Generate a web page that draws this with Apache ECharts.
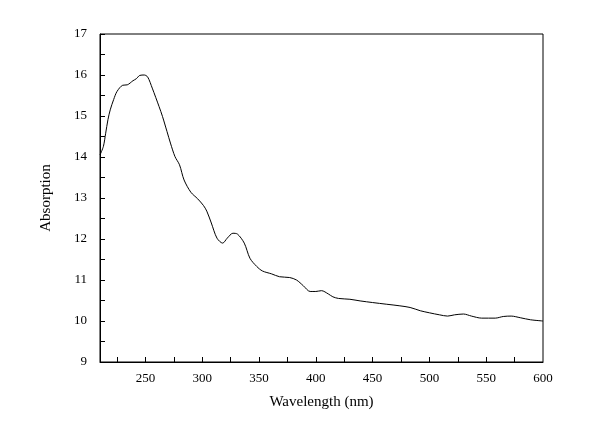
<!DOCTYPE html>
<html>
<head>
<meta charset="utf-8">
<script src="https://cdn.jsdelivr.net/npm/echarts@6/dist/echarts.min.js"></script>
<style>
  html, body { margin: 0; padding: 0; background: #fff; }
  #chart { width: 612px; height: 427px; }
</style>
</head>
<body>
<div id="chart"></div>
<script>
// wavelength (nm) and absorption
const wavelength = [210, 213, 215, 217, 219, 222, 225, 230, 234, 239, 242, 245, 249, 252, 256,
  262, 265, 269, 272, 276, 280, 284, 290, 296, 301, 304, 308, 313, 318, 322, 327, 331, 337,
  342, 348, 353, 361, 368, 377, 383, 389, 395, 400, 405, 411, 415, 420, 430, 439, 450, 462,
  474, 483, 492, 500, 509, 516, 522, 530, 537, 546, 558, 565, 572, 580, 589, 600];
const absorption = [14.05, 14.26, 14.58, 14.91, 15.15, 15.40, 15.60, 15.75, 15.76, 15.86, 15.91,
  15.99, 16.00, 15.95, 15.68, 15.23, 14.99, 14.62, 14.34, 14.01, 13.81, 13.44, 13.14, 12.98,
  12.82, 12.68, 12.39, 12.02, 11.90, 12.02, 12.14, 12.12, 11.90, 11.53, 11.33, 11.22, 11.15,
  11.08, 11.06, 11.00, 10.86, 10.72, 10.72, 10.74, 10.66, 10.59, 10.55, 10.53, 10.49, 10.45,
  10.41, 10.37, 10.33, 10.25, 10.20, 10.15, 10.12, 10.15, 10.17, 10.12, 10.07, 10.07, 10.11,
  10.12, 10.08, 10.03, 10.00];

const xLabels = [250, 300, 350, 400, 450, 500, 550, 600];
const xTicks = [225, 250, 275, 300, 325, 350, 375, 400, 425, 450, 475, 500, 525, 550, 575];

var chart = echarts.init(document.getElementById('chart'));
var font = 'Liberation Serif';

var option = {
  backgroundColor: '#fff',
  animation: false,
  grid: {
    left: 100, right: 69, top: 34, bottom: 65,
    show: true, borderColor: '#000', borderWidth: 1 // 위, 오른쪽 테두리
  },
  xAxis: {
    type: 'value',
    min: 210,
    max: 600,
    name: 'Wavelength (nm)',
    nameLocation: 'middle',
    nameGap: 33,
    nameTextStyle: { fontFamily: font, fontSize: 15, color: '#000' },
    axisLine: { lineStyle: { color: '#000', width: 1 } },
    axisTick: { inside: true, length: 5, customValues: xTicks, lineStyle: { color: '#000' } },
    axisLabel: { customValues: xLabels, margin: 10, fontFamily: font, fontSize: 13, color: '#000' },
    splitLine: { show: false }
  },
  yAxis: {
    type: 'value',
    min: 9,
    max: 17,
    interval: 0.5,
    name: 'Absorption',
    nameLocation: 'middle',
    nameGap: 46,
    nameTextStyle: { fontFamily: font, fontSize: 15, color: '#000' },
    axisLine: { show: true, lineStyle: { color: '#000', width: 1 } },
    axisTick: { inside: true, length: 5, lineStyle: { color: '#000' } },
    axisLabel: {
      margin: 13, fontFamily: font, fontSize: 13, color: '#000',
      formatter: function (v) { return v % 1 === 0 ? String(v) : ''; }
    },
    splitLine: { show: false }
  },
  series: [{
    type: 'line',
    data: wavelength.map(function (w, i) { return [w, absorption[i]]; }),
    smooth: 0.3,
    showSymbol: false,
    lineStyle: { color: '#000', width: 1 }
  }]
};

chart.setOption(option);
</script>
</body>
</html>
